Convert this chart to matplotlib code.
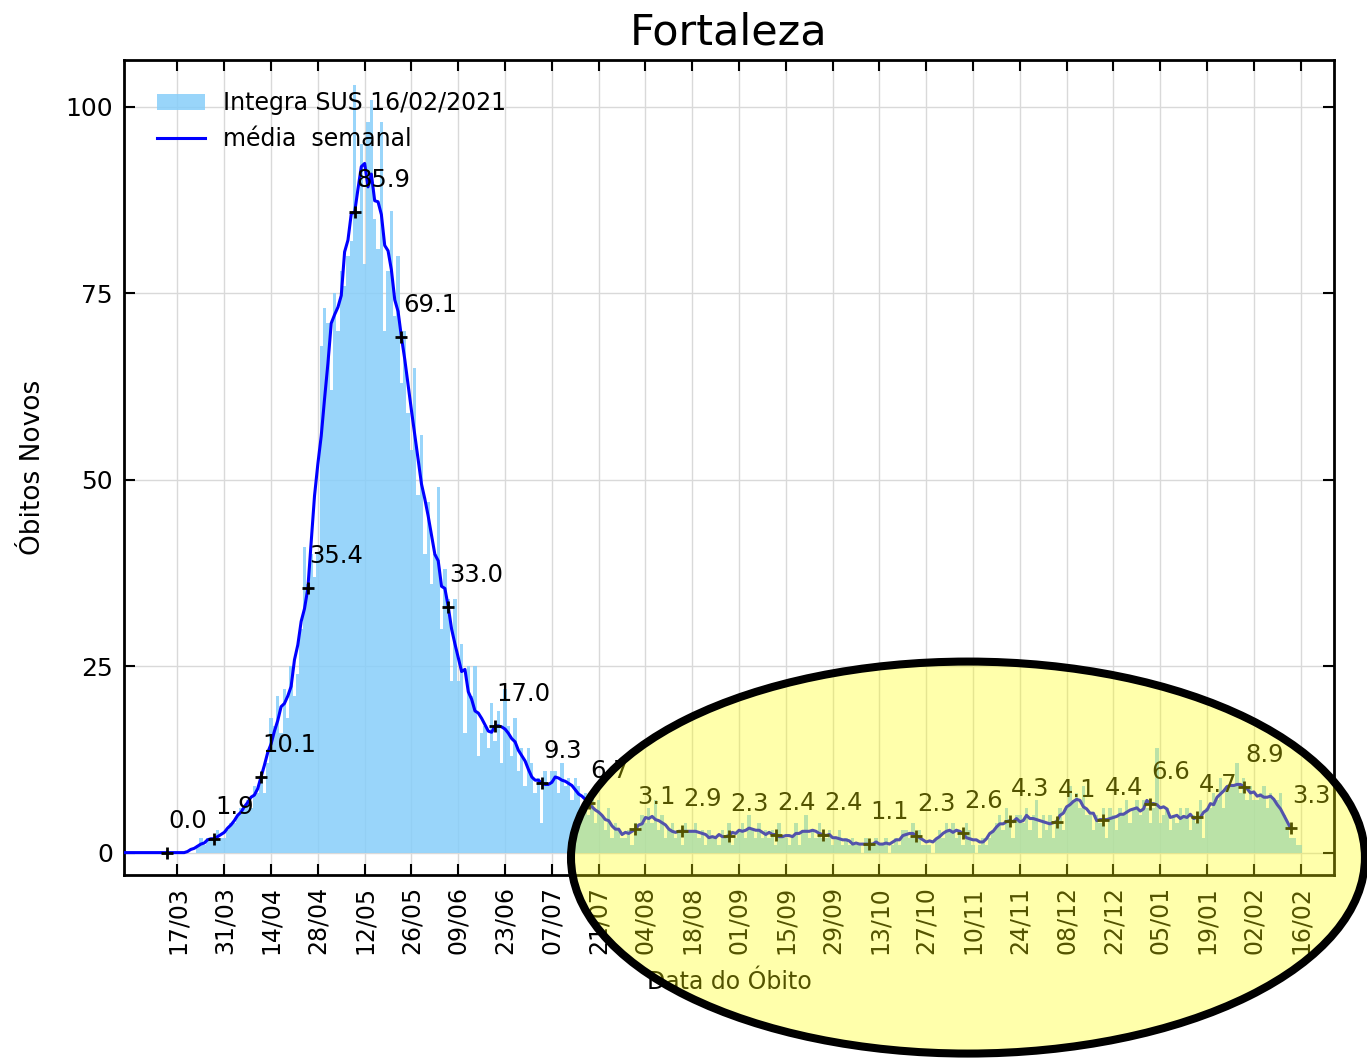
import matplotlib.pyplot as plt
import matplotlib.dates as mdates
from matplotlib.patches import Ellipse
import pandas as pd

# óbitos diários (Integra SUS), a partir de 26/02/2020, uma semana por linha
inicio = "2020-02-26"
obitos = [
    0, 0, 0, 0, 0, 0, 0,
    0, 0, 0, 0, 0, 0, 0,
    0, 0, 0, 0, 0, 0, 0,
    0, 0, 0, 0, 0, 1, 2,
    1, 2, 2, 1, 3, 2, 2,
    3, 4, 4, 5, 6, 6, 7,
    6, 9, 8, 10, 8, 12, 18,
    17, 21, 16, 22, 18, 25, 21,
    24, 30, 41, 36, 40, 37, 40,
    68, 73, 71, 62, 75, 70, 78,
    76, 80, 82, 103, 86, 95, 79,
    98, 101, 85, 81, 98, 70, 78,
    86, 72, 80, 63, 70, 59, 54,
    65, 48, 56, 40, 47, 36, 40,
    49, 30, 38, 34, 23, 34, 23,
    28, 16, 25, 21, 25, 13, 16,
    17, 14, 20, 15, 19, 12, 22,
    17, 13, 18, 11, 14, 9, 14,
    12, 8, 10, 4, 11, 9, 11,
    11, 8, 12, 9, 10, 7, 10,
    9, 6, 8, 5, 8, 4, 7,
    5, 3, 6, 2, 4, 3, 2,
    2, 3, 1, 4, 3, 5, 4,
    6, 4, 7, 3, 5, 2, 3,
    4, 2, 3, 1, 4, 3, 3,
    4, 2, 3, 1, 3, 2, 2,
    1, 3, 2, 4, 1, 2, 3,
    4, 2, 5, 3, 2, 4, 2,
    3, 2, 3, 1, 4, 2, 2,
    1, 2, 4, 1, 3, 5, 2,
    3, 2, 4, 2, 2, 3, 1,
    2, 3, 1, 2, 1, 2, 1,
    1, 0, 2, 1, 1, 2, 1,
    1, 2, 0, 1, 2, 1, 3,
    3, 2, 4, 2, 3, 1, 1,
    1, 0, 2, 3, 2, 4, 3,
    4, 2, 3, 1, 4, 3, 1,
    0, 1, 2, 1, 2, 3, 4,
    5, 3, 6, 4, 2, 5, 5,
    4, 6, 3, 5, 7, 2, 5,
    3, 5, 2, 4, 6, 3, 6,
    9, 7, 8, 6, 9, 5, 5,
    3, 5, 4, 6, 2, 6, 5,
    3, 6, 5, 7, 4, 6, 7,
    5, 7, 6, 4, 6, 14, 4,
    5, 6, 3, 5, 4, 6, 5,
    6, 3, 5, 4, 7, 2, 6,
    6, 8, 7, 10, 6, 9, 9,
    9, 12, 8, 10, 7, 9, 7,
    7, 8, 9, 6, 8, 7, 7,
    8, 5, 4, 2, 2, 1, 1,
]

dias = pd.date_range(inicio, periods=len(obitos), freq="D")
serie = pd.Series(obitos, index=dias, dtype=float)
media = serie.rolling(7, center=True).mean()

marcas = pd.date_range("2020-03-14", "2021-02-13", freq="14D")
ticks = pd.date_range("2020-03-17", "2021-02-16", freq="14D")

fs = 17
fig = plt.figure(figsize=(13.67, 10.62), dpi=100)
ax = fig.add_axes([0.0907, 0.1761, 0.8852, 0.7674])

barras = ax.bar(dias, obitos, width=1.0, color="#87CEFA", alpha=0.85,
                label="Integra SUS 16/02/2021", zorder=2)
linha, = ax.plot(media.index, media.values, color="blue", lw=2.2,
                 label="média  semanal", zorder=3)
ax.plot(marcas, media[marcas].values, "+", color="black", ms=9, mew=2, zorder=4)
for d in marcas:
    v = media[d]
    ax.annotate(f"{v:.1f}", (d, v), xytext=(1, 18), textcoords="offset points",
                ha="left", va="baseline", fontsize=17.5, zorder=5)

ax.set_xlim(pd.Timestamp("2020-03-01"), pd.Timestamp("2021-02-26"))
ax.set_ylim(-3, 106.3)
ax.set_yticks([0, 25, 50, 75, 100])
ax.set_xticks(ticks)
ax.xaxis.set_major_formatter(mdates.DateFormatter("%d/%m"))
ax.tick_params(axis="x", rotation=90)
ax.tick_params(direction="in", length=8, width=1.5, top=True, right=True,
               labelsize=fs, pad=8)
ax.tick_params(axis="y", labelsize=18)
ax.set_axisbelow(True)
ax.grid(True, color="#d9d9d9", lw=1)
for s in ax.spines.values():
    s.set_linewidth(2)

ax.set_title("Fortaleza", fontsize=31, pad=11)
ax.set_ylabel("Óbitos Novos", fontsize=19, labelpad=14)
ax.set_xlabel("Data do Óbito", fontsize=fs, labelpad=11)
ax.legend([barras, linha], ["Integra SUS 16/02/2021", "média  semanal"],
          loc="upper left", bbox_to_anchor=(0.01, 0.988), frameon=False,
          fontsize=fs, handlelength=2.0, handletextpad=0.8)

elipse = Ellipse((0.7081, 0.1925), 0.5808, 0.3691, transform=fig.transFigure,
                 facecolor=(1, 1, 0, 0.33), edgecolor="black", lw=5.8,
                 clip_on=False, zorder=10)
fig.patches.append(elipse)

fig.savefig("out.png", dpi=100)
